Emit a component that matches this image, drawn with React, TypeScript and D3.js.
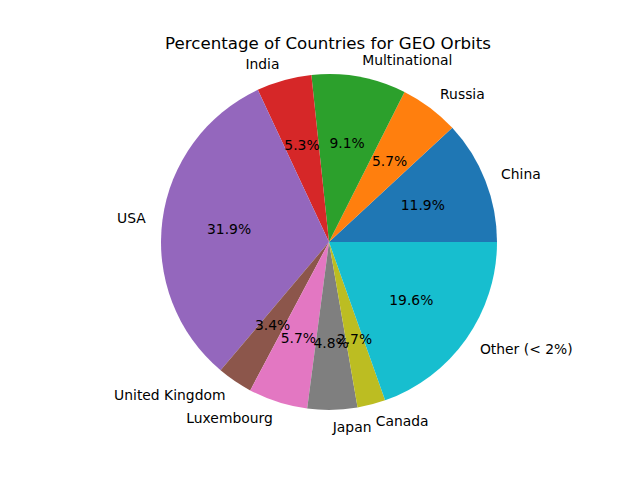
import React from "react";
import * as d3 from "d3";

const labels = ["China","Russia","Multinational","India","USA","United Kingdom","Luxembourg","Japan","Canada","Other (< 2%)"];
const values = [11.9,5.7,9.1,5.3,31.9,3.4,5.7,4.8,2.7,19.6];
const colors = ["#1f77b4","#ff7f0e","#2ca02c","#d62728","#9467bd","#8c564b","#e377c2","#7f7f7f","#bcbd22","#17becf"];

export default function App() {
  const cx = 329, cy = 242, r = 168;
  const pie = d3.pie<number>().sort(null).startAngle(Math.PI / 2).endAngle(Math.PI / 2 - 2 * Math.PI);
  const arcs = pie(values);
  const arc = d3.arc<d3.PieArcDatum<number>>().innerRadius(0).outerRadius(r);
  const total = d3.sum(values);
  return (
    <svg width={640} height={480} style={{ position: "absolute", left: 0, top: 0 }} fontFamily="DejaVu Sans">
      <rect width={640} height={480} fill="#fff" />
      <text x={328} y={49} textAnchor="middle" fontSize={16.67}>Percentage of Countries for GEO Orbits</text>
      <g transform={`translate(${cx},${cy})`}>
        {arcs.map((a, i) => <path key={i} d={arc(a) as string} fill={colors[i]} />)}
        {arcs.map((a, i) => {
          const m = (a.startAngle + a.endAngle) / 2;
          const sx = Math.sin(m), sy = -Math.cos(m);
          const lx = 1.1 * r * sx, ly = 1.1 * r * sy;
          return (
            <g key={i} fontSize={13.89}>
              <text x={lx} y={ly} dy="0.35em" textAnchor={sx > 0 ? "start" : "end"}>{labels[i]}</text>
              <text x={0.6 * r * sx} y={0.6 * r * sy} dy="0.35em" textAnchor="middle">{(values[i] / total * 100).toFixed(1)}%</text>
            </g>
          );
        })}
      </g>
    </svg>
  );
}
